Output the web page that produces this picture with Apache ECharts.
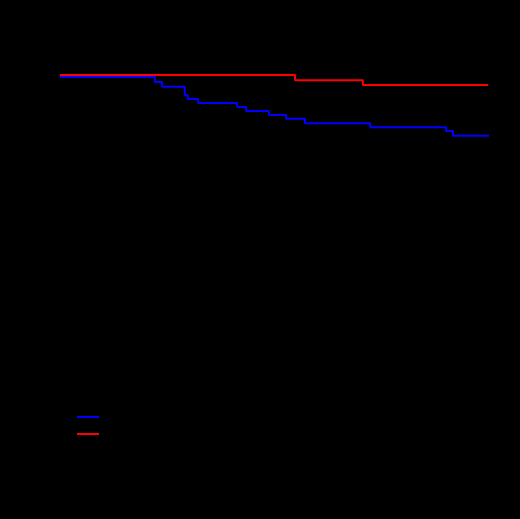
<!DOCTYPE html>
<html><head><meta charset="utf-8">
<script src="https://cdn.jsdelivr.net/npm/echarts@6/dist/echarts.min.js"></script>
<style>html,body{margin:0;background:#000}#c{width:520px;height:519px}</style>
</head><body><div id="c"></div>
<script>
const seriesNames = ['Group 1', 'Group 2'];
const blueTimes = [0, 22.1, 23.8, 29.1, 29.8, 32.2, 41.3, 43.4, 48.7, 52.7, 57.1, 72.3, 90.0, 91.6, 100];
const blueSurv  = [0.995, 0.982, 0.970, 0.949, 0.939, 0.929, 0.919, 0.909, 0.899, 0.889, 0.878, 0.868, 0.858, 0.846, 0.846];
const redTimes = [0, 54.8, 70.6, 99.8];
const redSurv  = [1.0, 0.987, 0.975, 0.975];
const pair = (t, s) => t.map((v, i) => [v, s[i]]);
const chart = echarts.init(document.getElementById('c'));
chart.setOption({
  backgroundColor: '#000',
  animation: false,
  grid: {left: 60, right: 31, top: 75, bottom: 49},
  xAxis: {type: 'value', min: 0, max: 100, axisLine: {lineStyle: {color: '#000'}}, axisLabel: {color: '#000'}, splitLine: {show: false}},
  yAxis: {type: 'value', min: 0, max: 1, axisLine: {show: true, lineStyle: {color: '#000'}}, axisLabel: {color: '#000'}, splitLine: {show: false}},
  legend: {left: 72, top: 406, orient: 'vertical', itemGap: 5, itemWidth: 22, itemHeight: 2, icon: 'rect', textStyle: {color: '#000'}, data: seriesNames},
  series: [
    {name: seriesNames[0], type: 'line', step: 'end', symbol: 'none', color: '#0000ff', lineStyle: {width: 2}, data: pair(blueTimes, blueSurv)},
    {name: seriesNames[1], type: 'line', step: 'end', symbol: 'none', color: '#ff0000', lineStyle: {width: 2}, data: pair(redTimes, redSurv)}
  ]
});
</script></body></html>
